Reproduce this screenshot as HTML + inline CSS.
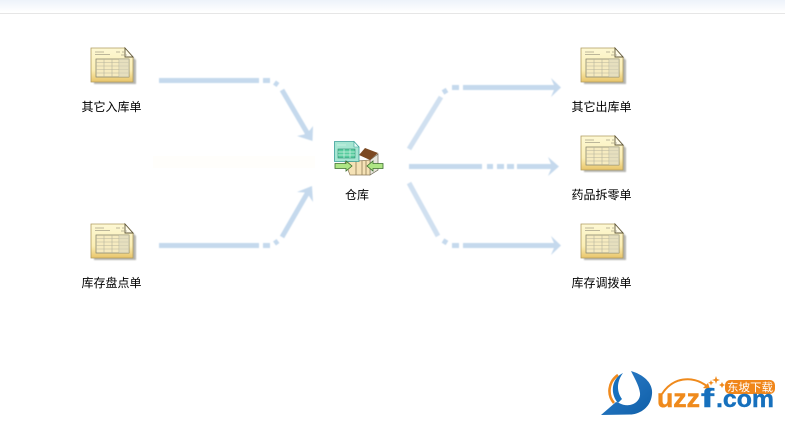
<!DOCTYPE html>
<html><head><meta charset="utf-8"><style>
html,body{margin:0;padding:0;background:#fff}
body{width:785px;height:432px;overflow:hidden;position:relative}
svg{position:absolute;left:0;top:0}
.l{font:12px "WenQuanYi Zen Hei","Noto Sans CJK SC",sans-serif;fill:#000;text-anchor:middle}
</style></head><body>
<svg width="785" height="432" viewBox="0 0 785 432" xmlns="http://www.w3.org/2000/svg">
<defs>
<filter id="b" x="-5%" y="-5%" width="110%" height="110%"><feGaussianBlur stdDeviation="0.45"/></filter>
<filter id="s" x="-5%" y="-5%" width="110%" height="110%"><feGaussianBlur stdDeviation="0.25"/></filter>
<filter id="sh" x="-10%" y="-10%" width="120%" height="120%"><feGaussianBlur stdDeviation="0.8"/></filter>
<linearGradient id="top" x1="0" y1="0" x2="0" y2="1"><stop offset="0" stop-color="#edf2fa"/><stop offset="1" stop-color="#fff"/></linearGradient>
<linearGradient id="paper" x1="0" y1="0" x2="0" y2="1"><stop offset="0" stop-color="#fdf8d4"/><stop offset="0.65" stop-color="#fbeeb4"/><stop offset="1" stop-color="#e8c468"/></linearGradient>
<linearGradient id="bl" x1="0" y1="0" x2="1" y2="1"><stop offset="0" stop-color="#2f80cc"/><stop offset="1" stop-color="#0f5fa8"/></linearGradient>
<g id="doc">
<path d="M4 4H37L46 13V37H4Z" fill="#b4b4ae" filter="url(#sh)"/>
<g filter="url(#s)">
<path d="M1 1H35L43 10V35H1Z" fill="url(#paper)" stroke="#b09c60" stroke-width="0.8"/>
<path d="M35 1V10H43Z" fill="#fffbe8" stroke="#5e5638" stroke-width="0.9"/>
<path d="M5 5H14M5 7.500H20M26 5H30M32 5H34M31 8H37" stroke="#a8a28a" stroke-width="0.8"/>
<rect x="6" y="12" width="33" height="18" fill="#f6ebc0" stroke="#8a8870" stroke-width="0.8"/>
<path d="M6 15.500H39M6 19H39M6 22.500H39M6 26H39M14 12V30M22 12V30M29 12V30" stroke="#b5b39c" stroke-width="0.6" fill="none"/>
<rect x="29" y="12" width="10" height="18" fill="#d9d6bc" opacity=".55"/>
</g>
</g>
</defs>
<rect width="785" height="12" fill="url(#top)"/>
<rect y="13" width="785" height="1" fill="#e6e6e6"/>
<rect x="153" y="156" width="162" height="12" fill="#fffefb"/>

<g filter="url(#b)">
<g stroke="#c5d9ed" fill="none" stroke-width="5">
<path d="M159 80.500H259M263 80.500H270"/><path d="M274.500 82.500L278 85"/><path d="M282 90L309 136"/>
<path d="M159 245.500H259M263 245.500H270"/><path d="M274.500 243.500L278 241"/><path d="M282 237L308 192"/>
<path d="M463 87.500H556M452 87.500H459"/><path d="M447 90L443 92.500"/><path d="M441 97L409 149" stroke="#d0e0f0"/>
<path d="M409 166.500H482M487 166.500H493M497 166.500H504M507 166.500H514M517 166.500H555"/>
<path d="M463 245.500H556M452 245.500H459"/><path d="M447 243L443 240.500"/><path d="M438 236L409 183" stroke="#d0e0f0"/>
</g>
<g fill="#c5d9ed">
<path d="M297 136L304 134.500L310 130L313 126L312.500 141Z"/>
<path d="M297 192L312 186L313 202L309 196L305 192.500Z"/>
<path d="M551 78L561 87.500L551 97L555 87.500Z"/>
<path d="M548 157L559 166.500L548 176L552 166.500Z"/>
<path d="M551 236L561 245.500L551 255L555 245.500Z"/>
</g>
</g>

<use href="#doc" x="90" y="47"/>
<use href="#doc" x="90" y="223"/>
<use href="#doc" x="580" y="47"/>
<use href="#doc" x="580" y="135"/>
<use href="#doc" x="580" y="223"/>

<!-- warehouse -->
<g filter="url(#s)">
<path d="M370 160L378 154V170L370 175Z" fill="#e8e6dc" stroke="#6f6a58" stroke-width="0.7"/>
<path d="M345 162L370 160V175H350Z" fill="#f5e2b6" stroke="#8a7a5a" stroke-width="0.7"/>
<path d="M356 161V175M362 161V175M366 161V175" stroke="#8f7c54" stroke-width="0.8"/>
<path d="M359 155L365 148L378 153L370 160Z" fill="#7b4a24"/>
<path d="M334.500 141.500H354L359 147V161.500H334.500Z" fill="#a6e6d2" stroke="#3a9f98" stroke-width="0.8"/>
<path d="M354 141.500V147H359Z" fill="#e6fbf4" stroke="#3a9f98" stroke-width="0.6"/>
<rect x="338" y="149" width="17" height="9" fill="#58cc9f" stroke="#2c8b6e" stroke-width="0.6"/>
<path d="M337 145H346M338 152H355M338 155H355M344 149V158M350 149V158" stroke="#d2f3e5" stroke-width="0.7"/>
<path d="M335 163.500H346V161L352 166L346 171V168.500H335Z" fill="#aee684" stroke="#3c6d2e" stroke-width="0.8"/>
<path d="M383 163.500H373V161L367 166L373 171V168.500H383Z" fill="#aee684" stroke="#3c6d2e" stroke-width="0.8"/>
</g>

<text class="l" x="111.500" y="111">其它入库单</text>
<text class="l" x="111.500" y="287">库存盘点单</text>
<text class="l" x="357" y="199">仓库</text>
<text class="l" x="601.500" y="111">其它出库单</text>
<text class="l" x="601.500" y="199">药品拆零单</text>
<text class="l" x="601.500" y="287">库存调拨单</text>

<!-- logo -->
<path d="M631 371C645 375 653 384 652 394C651 406 642 414 630 414.500L601 415L616 402L619 403C630 409 641 402 640 393C639 386 636 381 631 371Z" fill="url(#bl)"/>
<path d="M623 373C611 379 610 394 618 403L622 399C616 391 617 381 623 373Z" fill="#1670bd"/>
<path d="M618 375C608 382 607 395 614 403" fill="none" stroke="#f08a1d" stroke-width="2.600"/>
<path d="M662 394C672 378 692 374 708 387" fill="none" stroke="#ef8a1c" stroke-width="2"/>
<path d="M710 389L703 388L708 383Z" fill="#ef8a1c"/>
<path d="M716 376l1 3 3 1-3 1-1 3-1-3-3-1 3-1zM722 382l1 2 2 1-2 1-1 2-1-2-2-1 2-1zM711 380l.8 2 2 .8-2 .8-.8 2-.8-2-2-.8 2-.8z" fill="#f08a1d"/>
<rect x="725" y="380" width="50" height="14" rx="5" fill="#f0861a"/>
<text x="750" y="391" text-anchor="middle" textLength="46" lengthAdjust="spacingAndGlyphs" font-family="'WenQuanYi Zen Hei','Noto Sans CJK SC',sans-serif" font-size="11" fill="#fff">东坡下载</text>
<text x="657" y="407" textLength="43" lengthAdjust="spacingAndGlyphs" font-family="'Liberation Sans',sans-serif" font-weight="700" font-size="26" fill="#ef8a1c" stroke="#ef8a1c" stroke-width=".5">uzz</text>
<text x="701" y="407" textLength="13" lengthAdjust="spacingAndGlyphs" font-family="'Liberation Sans',sans-serif" font-weight="700" font-size="26" fill="#1670bd" stroke="#1670bd" stroke-width=".5">f</text>
<text x="716" y="407" textLength="58" lengthAdjust="spacingAndGlyphs" font-family="'Liberation Sans',sans-serif" font-weight="700" font-size="24" fill="#1670bd" stroke="#1670bd" stroke-width=".4">.com</text>
</svg>
</body></html>
